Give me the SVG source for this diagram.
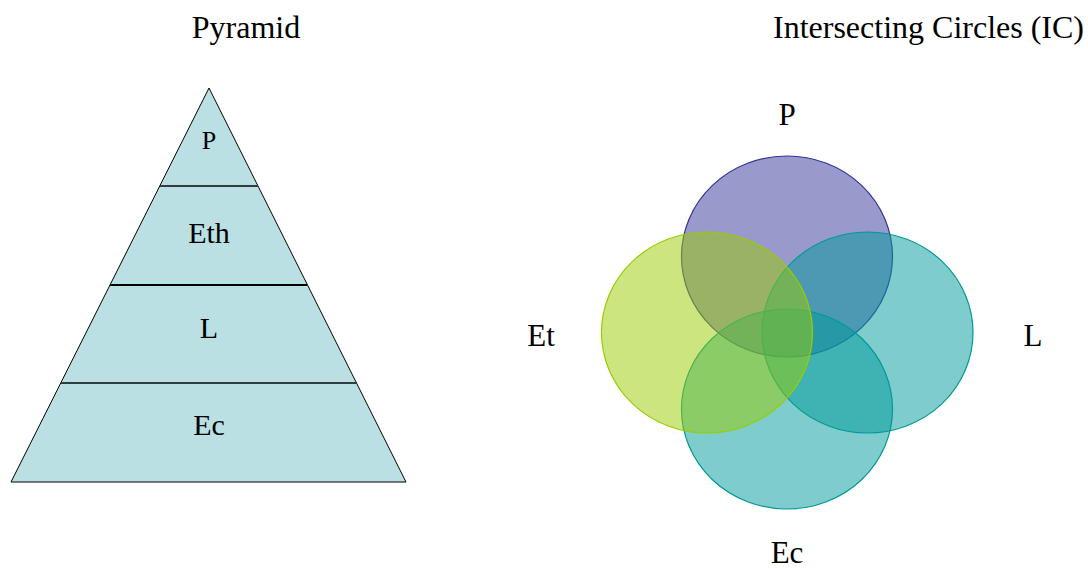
<svg xmlns="http://www.w3.org/2000/svg" width="1088" height="569" viewBox="0 0 1088 569">
<style>
text{font-family:"Liberation Serif","Times New Roman",serif;font-size:31px;fill:#000;}
.c{text-anchor:middle;}
.t{font-size:32px;}
.tier{fill:#bbe0e3;stroke:#000;stroke-width:1;}
.div{stroke:#2f3f3f;stroke-width:2;}
.circ{fill-opacity:0.5;stroke-width:1.2;}
</style>
<rect width="1088" height="569" fill="#fff"/>
<text x="246" y="38" class="c t">Pyramid</text>
<text x="773" y="38" class="t">Intersecting Circles (IC)</text>
<g id="pyramid">
<polygon points="209,88 406,482 11,482" class="tier"/>
</g>
<g id="connectors">
<line x1="160" y1="186" x2="258" y2="186" class="div"/>
<line x1="110" y1="285" x2="307" y2="285" class="div" style="stroke:#000"/>
<line x1="61" y1="383" x2="357" y2="383" class="div"/>
</g>
<g id="tier-p"><text x="209" y="149" class="c" style="font-size:26px">P</text></g>
<g id="tier-eth"><text x="209" y="243" class="c" style="font-size:30px">Eth</text></g>
<g id="tier-l"><text x="209" y="338" class="c" style="font-size:30px">L</text></g>
<g id="tier-ec"><text x="209" y="435" class="c" style="font-size:30px">Ec</text></g>
<g id="circle-p"><ellipse cx="787" cy="256.5" rx="105.5" ry="100.5" class="circ" fill="#333399" stroke="#333399"/></g>
<g id="circle-l"><ellipse cx="867.5" cy="332.5" rx="105.5" ry="100.5" class="circ" fill="#009999" stroke="#009999"/></g>
<g id="circle-ec"><ellipse cx="787" cy="409" rx="105.5" ry="100" class="circ" fill="#009999" stroke="#009999"/></g>
<g id="circle-et"><ellipse cx="707" cy="332.5" rx="105.5" ry="100.5" class="circ" fill="#99cc00" stroke="#99cc00"/></g>
<g id="labels">
<text x="541" y="346" class="c">Et</text>
<text x="787" y="125" class="c">P</text>
<text x="1033" y="346" class="c">L</text>
<text x="787" y="563" class="c">Ec</text>
</g>
</svg>
